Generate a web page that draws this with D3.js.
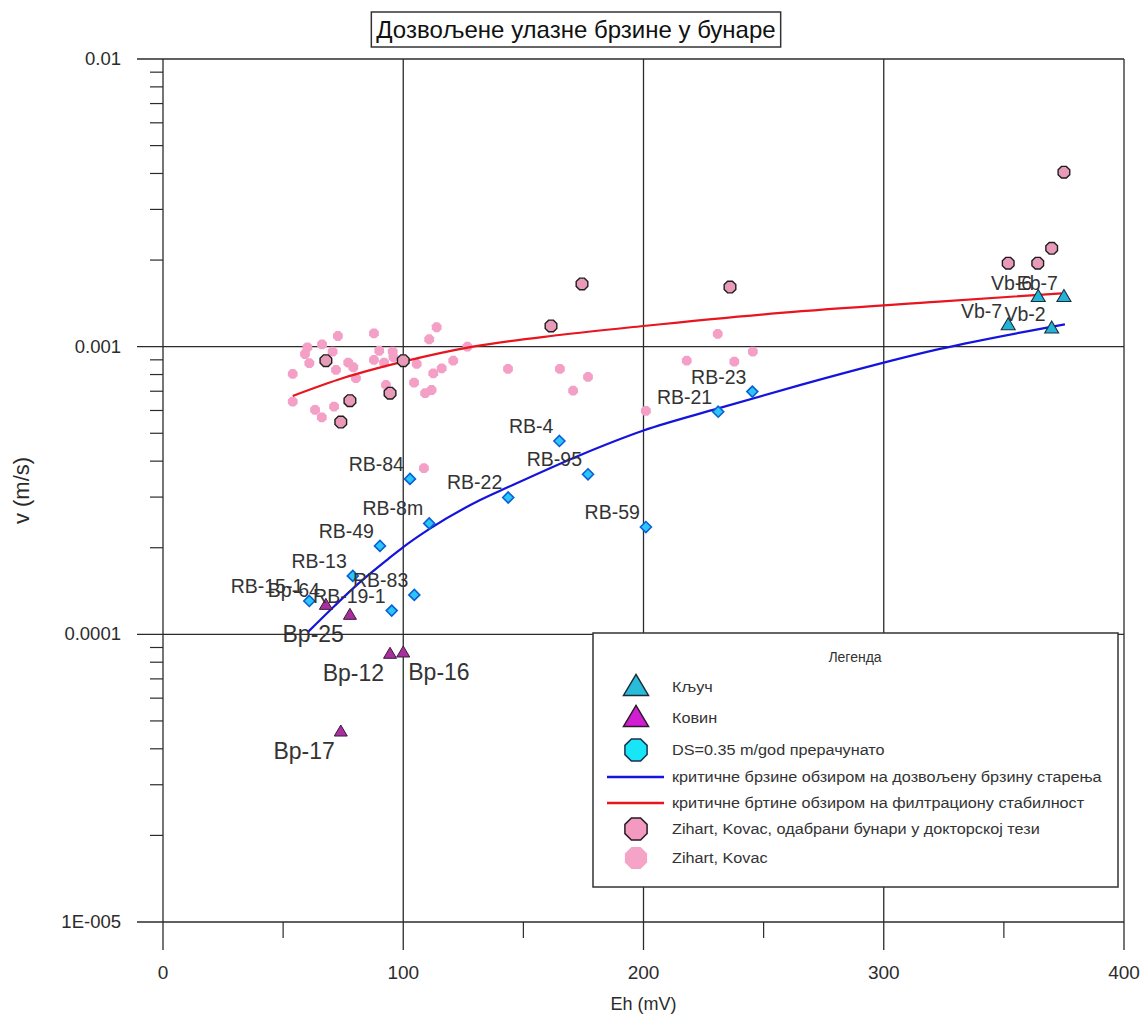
<!DOCTYPE html>
<html><head><meta charset="utf-8">
<script src="https://cdn.jsdelivr.net/npm/d3@7"></script>
<style>body{margin:0;background:#fff}svg{display:block;font-family:"Liberation Sans",Arial,sans-serif}</style>
</head><body>
<svg id="c" width="1146" height="1016"></svg>
<script>
// ---------- data ----------
const titleText = "Дозвољене улазне брзине у бунаре";
const xAxisTitle = "Eh (mV)";
const yAxisTitle = "v (m/s)";
const xMajorTicks = [0, 100, 200, 300, 400];
const xTickLabels = ["0", "100", "200", "300", "400"];
const xMinorTicks = [50, 150, 250, 350];
const yMajorTicks = [0.01, 0.001, 0.0001, 0.00001];
const yTickLabels = ["0.01", "0.001", "0.0001", "1E-005"];
const yMinorTicks = [2e-5,3e-5,4e-5,5e-5,6e-5,7e-5,8e-5,9e-5,2e-4,3e-4,4e-4,5e-4,6e-4,7e-4,8e-4,9e-4,2e-3,3e-3,4e-3,5e-3,6e-3,7e-3,8e-3,9e-3];

// Zihart, Kovac (all wells)
const zihartEh = [113.9,110.8,87.8,72.8,66.2,60.1,59.1,60.9,70.6,54.0,54.0,72.0,77.1,79.2,80.3,90.0,87.8,92.0,95.6,95.9,92.8,105.6,104.5,112.5,116.0,109.1,111.8,120.8,126.7,63.3,66.1,71.2,108.6,143.6,165.2,170.7,176.9,201.0,218.0,230.9,237.8,245.5];
const zihartV  = [1.168e-3,1.061e-3,1.113e-3,1.089e-3,1.019e-3,9.95e-4,9.43e-4,8.76e-4,9.61e-4,8.04e-4,6.44e-4,8.30e-4,8.80e-4,8.48e-4,7.77e-4,9.68e-4,8.99e-4,8.80e-4,9.61e-4,9.19e-4,7.36e-4,8.71e-4,7.50e-4,8.08e-4,8.41e-4,6.89e-4,7.07e-4,8.94e-4,1.0e-3,6.03e-4,5.68e-4,6.19e-4,3.78e-4,8.37e-4,8.37e-4,7.03e-4,7.85e-4,5.98e-4,8.94e-4,1.107e-3,8.87e-4,9.61e-4];

// Zihart, Kovac — wells selected in doctoral thesis
const selEh = [67.8,100.0,77.8,94.5,74.0,161.5,174.4,236.0,351.8,364.1,369.9,375.0];
const selV  = [8.94e-4,8.94e-4,6.49e-4,6.89e-4,5.47e-4,1.180e-3,1.652e-3,1.612e-3,1.950e-3,1.950e-3,2.198e-3,4.04e-3];

// DS=0.35 m/god recalculated (RB wells)
const rbLabels = ["RB-84","RB-8m","RB-49","RB-13","RB-83","RB-19-1","RB-15-1","RB-4","RB-95","RB-22","RB-59","RB-21","RB-23"];
const rbEh = [102.8,110.8,90.3,79.0,104.6,95.2,60.9,165.0,176.9,143.7,201.0,231.1,245.3];
const rbV  = [3.47e-4,2.43e-4,2.03e-4,1.596e-4,1.371e-4,1.209e-4,1.306e-4,4.70e-4,3.60e-4,2.99e-4,2.36e-4,5.94e-4,6.98e-4];

// Ковин
const kovinLabels = ["Bp-64","Bp-25","Bp-12","Bp-16","Bp-17"];
const kovinLabelPlace = ["upper-left","lower-left","lower-left","lower-right","lower-left"];
const kovinEh = [67.8,77.8,94.5,100.0,74.0];
const kovinV  = [1.265e-4,1.168e-4,8.55e-5,8.64e-5,4.59e-5];

// Кључ
const kljucLabels = ["Vb-7","Vb-6","Vb-2","Eb-7"];
const kljucEh = [351.8,364.3,369.9,375.0];
const kljucV  = [1.19e-3,1.492e-3,1.159e-3,1.492e-3];

// critical velocity curves
const blueEh = [60.5,71.6,81.3,93.8,100,111.1,132,143.7,174.3,200,231.1,265.1,323.4,375.4];
const blueV  = [1.022e-4,1.26e-4,1.50e-4,1.83e-4,2.01e-4,2.33e-4,2.93e-4,3.25e-4,4.22e-4,5.11e-4,6.1e-4,7.35e-4,9.82e-4,1.196e-3];
const redEh = [54,75,100,129,165,200,257,323,374];
const redV  = [6.74e-4,7.78e-4,8.87e-4,1.0e-3,1.098e-3,1.180e-3,1.310e-3,1.434e-3,1.533e-3];

const legendTitle = "Легенда";
const legendLabels = ["Кључ","Ковин","DS=0.35 m/god прерачунато",
  "критичне брзине обзиром на дозвољену брзину старења",
  "критичне бртине обзиром на филтрациону стабилност",
  "Zihart, Kovac, одабрани бунари у докторској тези",
  "Zihart, Kovac"];

// ---------- drawing ----------
const svg = d3.select("#c");
const x = d3.scaleLinear().domain([0,400]).range([163,1124]);
const y = d3.scaleLog().domain([1e-5,1e-2]).range([922,59]);
const ink = "#2b2b2b";

function octagon(r){
  const p=[];for(let k=0;k<8;k++){const a=Math.PI/8+k*Math.PI/4;p.push([r*Math.cos(a),r*Math.sin(a)]);}
  return "M"+p.map(d=>d.join(",")).join("L")+"Z";
}
function triangle(w,h){return `M0,${-h*0.6}L${w/2},${h*0.4}L${-w/2},${h*0.4}Z`;}
function diamond(r){return `M0,${-r}L${r},0L0,${r}L${-r},0Z`;}

// grid + ticks
const g = svg.append("g");
g.selectAll(".vg").data(xMajorTicks).join("line")
  .attr("x1",d=>x(d)).attr("x2",d=>x(d)).attr("y1",y(1e-2)).attr("y2",y(1e-5)+28)
  .attr("stroke",ink).attr("stroke-width",1.3);
g.selectAll(".hg").data(yMajorTicks).join("line")
  .attr("y1",d=>y(d)).attr("y2",d=>y(d)).attr("x1",x(0)-26).attr("x2",x(400))
  .attr("stroke",ink).attr("stroke-width",1.3);
g.selectAll(".xm").data(xMinorTicks).join("line")
  .attr("x1",d=>x(d)).attr("x2",d=>x(d)).attr("y1",y(1e-5)).attr("y2",y(1e-5)+16)
  .attr("stroke",ink).attr("stroke-width",1.2);
g.selectAll(".ym").data(yMinorTicks).join("line")
  .attr("y1",d=>y(d)).attr("y2",d=>y(d)).attr("x1",x(0)-13).attr("x2",x(0))
  .attr("stroke",ink).attr("stroke-width",1.2);

g.selectAll(".xl").data(xMajorTicks).join("text")
  .attr("x",d=>x(d)).attr("y",y(1e-5)+57).attr("text-anchor","middle")
  .attr("font-size",19).attr("fill",ink).text((d,i)=>xTickLabels[i]);
g.selectAll(".yl").data(yMajorTicks).join("text")
  .attr("x",x(0)-42).attr("y",d=>y(d)+6).attr("text-anchor","end")
  .attr("font-size",18.5).attr("fill",ink).text((d,i)=>yTickLabels[i]);

svg.append("text").attr("x",x(200)).attr("y",1010).attr("text-anchor","middle")
  .attr("font-size",18).attr("fill",ink).text(xAxisTitle);
svg.append("text").attr("transform",`translate(29,${y(Math.sqrt(1e-3*1e-4))}) rotate(-90)`)
  .attr("text-anchor","middle").attr("font-size",22).attr("fill",ink).text(yAxisTitle);

// title
const tg = svg.append("g");
const tr = tg.append("rect");
const tt = tg.append("text").attr("x",576).attr("y",38).attr("text-anchor","middle")
  .attr("font-size",24).attr("fill","#111").text(titleText);
const tb = tt.node().getBBox();
tr.attr("x",tb.x-5).attr("y",12).attr("width",tb.width+10).attr("height",35)
  .attr("fill","#fff").attr("stroke","#333").attr("stroke-width",1.5);

// pink dots
svg.append("g").selectAll("path").data(zihartEh).join("path")
  .attr("transform",(d,i)=>`translate(${x(d)},${y(zihartV[i])})`)
  .attr("d",octagon(5.3)).attr("fill","#f4a0c6");

// curves
const line = d3.line().curve(d3.curveMonotoneX);
svg.append("path").attr("d",line(redEh.map((d,i)=>[x(d),y(redV[i])])))
  .attr("fill","none").attr("stroke","#e8141e").attr("stroke-width",2.2);
svg.append("path").attr("d",line(blueEh.map((d,i)=>[x(d),y(blueV[i])])))
  .attr("fill","none").attr("stroke","#1414dc").attr("stroke-width",2.2);

// RB diamonds
svg.append("g").selectAll("path").data(rbEh).join("path")
  .attr("transform",(d,i)=>`translate(${x(d)},${y(rbV[i])})`)
  .attr("d",diamond(5.5)).attr("fill","#2cc6f6").attr("stroke","#0b5fd6").attr("stroke-width",1.6);

// Kovin triangles
svg.append("g").selectAll("path").data(kovinEh).join("path")
  .attr("transform",(d,i)=>`translate(${x(d)},${y(kovinV[i])})`)
  .attr("d",triangle(13,11)).attr("fill","#a8309e").attr("stroke","#3a1a3a").attr("stroke-width",1);

// Kljuc triangles
svg.append("g").selectAll("path").data(kljucEh).join("path")
  .attr("transform",(d,i)=>`translate(${x(d)},${y(kljucV[i])})`)
  .attr("d",triangle(14,12)).attr("fill","#22b4d6").attr("stroke","#1c2c3c").attr("stroke-width",1.1);

// selected Zihart
svg.append("g").selectAll("path").data(selEh).join("path")
  .attr("transform",(d,i)=>`translate(${x(d)},${y(selV[i])})`)
  .attr("d",octagon(6.3)).attr("fill","#e99ab8").attr("stroke","#1e1e1e").attr("stroke-width",1.4);

// labels
const lab = svg.append("g").attr("fill","#333");
lab.selectAll(".rb").data(rbLabels).join("text")
  .attr("x",(d,i)=>x(rbEh[i])-6).attr("y",(d,i)=>y(rbV[i])-8).attr("text-anchor","end")
  .attr("font-size",19.5).text(d=>d);
lab.selectAll(".kl").data(kljucLabels).join("text")
  .attr("x",(d,i)=>x(kljucEh[i])-6).attr("y",(d,i)=>y(kljucV[i])-7).attr("text-anchor","end")
  .attr("font-size",19.5).text(d=>d);
lab.selectAll(".kv").data(kovinLabels).join("text")
  .attr("x",(d,i)=>kovinLabelPlace[i]==="lower-right"?x(kovinEh[i])+5:x(kovinEh[i])-6)
  .attr("y",(d,i)=>kovinLabelPlace[i]==="upper-left"?y(kovinV[i])-8:y(kovinV[i])+27)
  .attr("text-anchor",(d,i)=>kovinLabelPlace[i]==="lower-right"?"start":"end")
  .attr("font-size",(d,i)=>kovinLabelPlace[i]==="upper-left"?19.5:23).text(d=>d);

// legend
const L = svg.append("g");
L.append("rect").attr("x",593).attr("y",633).attr("width",525).attr("height",254)
  .attr("fill","#fff").attr("stroke","#333").attr("stroke-width",1.5);
L.append("text").attr("x",855).attr("y",662).attr("text-anchor","middle").attr("font-size",14).attr("fill","#333").text(legendTitle);
const rowsY = [687,718,750,777,803,829,858];
const lx = 636;
L.append("path").attr("transform",`translate(${lx},${rowsY[0]})`).attr("d",triangle(25,21)).attr("fill","#28bcd8").attr("stroke","#1c2c3c").attr("stroke-width",1.5);
L.append("path").attr("transform",`translate(${lx},${rowsY[1]})`).attr("d",triangle(25,21)).attr("fill","#d21ed2").attr("stroke","#2a1a2a").attr("stroke-width",1.5);
L.append("path").attr("transform",`translate(${lx},${rowsY[2]})`).attr("d",octagon(12)).attr("fill","#18e6f6").attr("stroke","#1c3050").attr("stroke-width",1.5);
L.append("line").attr("x1",607).attr("x2",664).attr("y1",rowsY[3]).attr("y2",rowsY[3]).attr("stroke","#1414dc").attr("stroke-width",2.5);
L.append("line").attr("x1",607).attr("x2",664).attr("y1",rowsY[4]).attr("y2",rowsY[4]).attr("stroke","#e8141e").attr("stroke-width",2.5);
L.append("path").attr("transform",`translate(${lx},${rowsY[5]})`).attr("d",octagon(12)).attr("fill","#f29ac0").attr("stroke","#2a1a22").attr("stroke-width",1.5);
L.append("path").attr("transform",`translate(${lx},${rowsY[6]})`).attr("d",octagon(12)).attr("fill","#f5a4c8");
L.selectAll(".lt").data(legendLabels).join("text")
  .attr("transform",(d,i)=>`translate(672,${rowsY[i]+5}) scale(1.12,1)`)
  .attr("font-size",14.5).attr("fill","#333").text(d=>d);
</script>
</body></html>
